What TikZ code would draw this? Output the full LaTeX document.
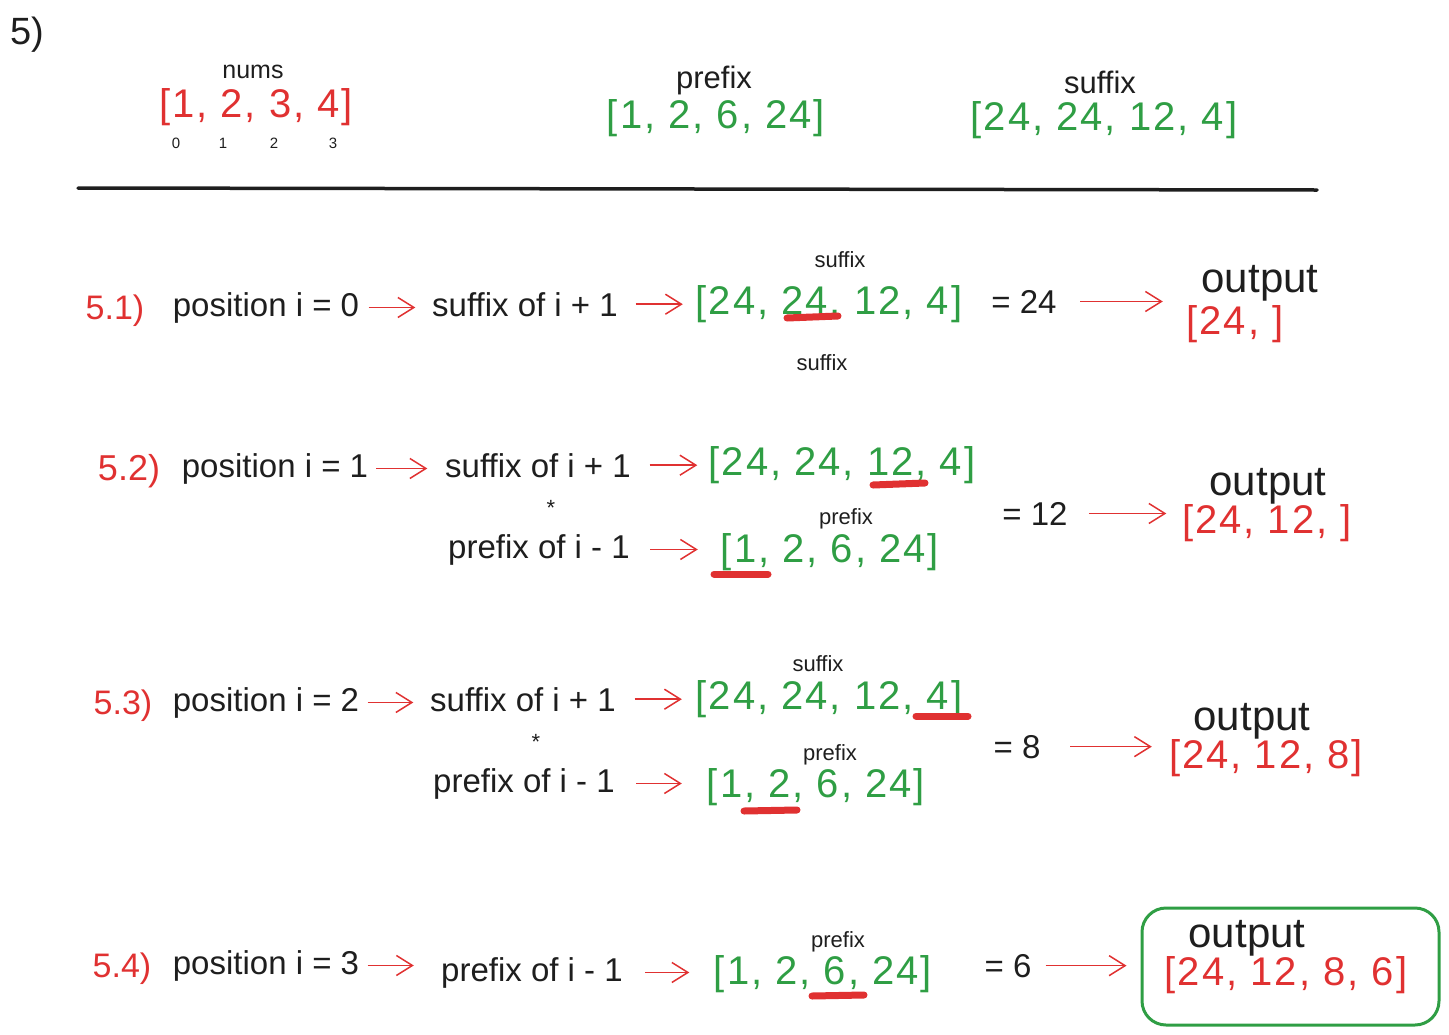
\documentclass[tikz,border=0pt]{standalone}
\usepackage{fontspec}
\setmainfont{Liberation Sans}
\newfontfamily\arrfont{Liberation Sans}[LetterSpace=5]
\usetikzlibrary{arrows.meta,calc}
\definecolor{exred}{HTML}{E03131}
\definecolor{exgreen}{HTML}{2F9E44}
\definecolor{exblack}{HTML}{1E1E1E}
\tikzset{
  txt/.style={inner sep=0pt, anchor=base, text=exblack, font=\fontsize{33}{40}\selectfont},
  hd/.style={txt, text=exred, font=\fontsize{34}{40}\selectfont},
  arrg/.style={txt, text=exgreen, font=\fontsize{40}{48}\arrfont},
  arrr/.style={txt, text=exred, font=\fontsize{40}{48}\arrfont},
  small/.style={txt, font=\fontsize{22}{26}\selectfont},
  outl/.style={txt, font=\fontsize{42}{48}\selectfont},
  idx/.style={txt, font=\fontsize{15}{18}\selectfont},
  conn/.style={draw=exred, line width=1.5pt, -{Straight Barb[length=16pt,width=20pt,line width=1.5pt]}},
  uline/.style={draw=exred, line width=7pt, line cap=round},
}
\begin{document}
\begin{tikzpicture}[x=1pt,y=-1pt]
\useasboundingbox (0,0) rectangle (1449,1034);

% header
\node[txt, font=\fontsize{38}{44}\selectfont] (t5) at (27,44) {5)};
\node[txt, font=\fontsize{25}{30}\selectfont] (numsl) at (253,78) {nums};
\node[arrr] (nums) at (256,117) {[1, 2, 3, 4]};
\node[idx] (i0) at (176,148) {0};
\node[idx] (i1) at (223,148) {1};
\node[idx] (i2) at (274,148) {2};
\node[idx] (i3) at (333,148) {3};
\node[txt, font=\fontsize{31}{36}\selectfont] (prefl) at (714,88) {prefix};
\node[arrg] (pref) at (716,128) {[1, 2, 6, 24]};
\node[txt, font=\fontsize{31}{36}\selectfont] (sufl) at (1100,93) {suffix};
\node[arrg] (suf) at (1104,130) {[24, 24, 12, 4]};
\draw[exblack, line width=3.5pt, line cap=round] (78,188) -- (1317,190);

% 5.1
\node[hd] (h1) at (115,319) {5.1)};
\node[txt, minimum width=187pt] (p1) at (266,316) {position i = 0};
\node[txt, minimum width=197pt] (s1) at (525,316) {suffix of i + 1};
\node[arrg, minimum width=274pt] (a1) at (829,314) {[24, 24, 12, 4]};
\node[small] (a1l) at (840,267) {suffix};
\draw[uline] (787,318) -- (838,316);
\node[txt, minimum width=68pt] (e1) at (1024,313) {= 24};
\node[outl] (o1l) at (1260,292) {output};
\node[arrr, minimum width=110pt] (o1) at (1235,334) {[24, ]};
\node[small] (x1) at (822,370) {suffix};
\draw[conn, shorten <=9pt, shorten >=11pt] (p1.east) -- (p1.east -| s1.west);
\draw[conn, shorten <=12pt, shorten >=9pt] (s1.east) -- (s1.east -| a1.west);
\draw[conn, shorten <=22pt, shorten >=17pt] (e1.east) -- (e1.east -| o1.west);

% 5.2
\node[hd, font=\fontsize{36}{42}\selectfont] (h2) at (129,480) {5.2)};
\node[txt, minimum width=174pt] (p2) at (275,477) {position i = 1};
\node[txt, minimum width=197pt] (s2) at (538,477) {suffix of i + 1};
\node[arrg, minimum width=271pt] (a2) at (842,475) {[24, 24, 12, 4]};
\draw[uline] (873,485) -- (925,483);
\node[small] (m2) at (551,515) {*};
\node[txt, minimum width=188pt] (q2) at (539,558) {prefix of i - 1};
\node[arrg, minimum width=226pt] (b2) at (830,562) {[1, 2, 6, 24]};
\draw[uline] (714,574) -- (768,574);
\node[small] (b2l) at (846,524) {prefix};
\node[txt, minimum width=58pt] (e2) at (1035,525) {= 12};
\node[outl] (o2l) at (1268,495) {output};
\node[arrr, minimum width=175pt] (o2) at (1267,533) {[24, 12, ]};
\draw[conn, shorten <=8pt, shorten >=12pt] (p2.east) -- (p2.east -| s2.west);
\draw[conn, shorten <=13pt, shorten >=9pt] (s2.east) -- (s2.east -| a2.west);
\draw[conn, shorten <=17pt, shorten >=19pt] (q2.east) -- (q2.east -| b2.west);
\draw[conn, shorten <=21pt, shorten >=13pt] (e2.east) -- (e2.east -| o2.west);

% 5.3
\node[hd] (h3) at (123,714) {5.3)};
\node[txt, minimum width=187pt] (p3) at (266,711) {position i = 2};
\node[txt, minimum width=197pt] (s3) at (523,711) {suffix of i + 1};
\node[arrg, minimum width=278pt] (a3) at (829,709) {[24, 24, 12, 4]};
\draw[uline] (916,716) -- (968,716);
\node[small] (a3l) at (818,671) {suffix};
\node[small] (m3) at (536,749) {*};
\node[txt, minimum width=188pt] (q3) at (524,792) {prefix of i - 1};
\node[arrg, minimum width=224pt] (b3) at (816,797) {[1, 2, 6, 24]};
\draw[uline] (744,811) -- (797,810);
\node[small] (b3l) at (830,760) {prefix};
\node[txt, minimum width=50pt] (e3) at (1017,758) {= 8};
\node[outl] (o3l) at (1252,730) {output};
\node[arrr, minimum width=200pt] (o3) at (1266,768) {[24, 12, 8]};
\draw[conn, shorten <=8pt, shorten >=11pt] (p3.east) -- (p3.east -| s3.west);
\draw[conn, shorten <=13pt, shorten >=8pt] (s3.east) -- (s3.east -| a3.west);
\draw[conn, shorten <=18pt, shorten >=22pt] (q3.east) -- (q3.east -| b3.west);
\draw[conn, shorten <=28pt, shorten >=14pt] (e3.east) -- (e3.east -| o3.west);

% 5.4
\node[hd] (h4) at (122,977) {5.4)};
\node[txt, minimum width=187pt] (p4) at (266,974) {position i = 3};
\node[txt, minimum width=188pt] (q4) at (532,981) {prefix of i - 1};
\node[arrg, minimum width=223pt] (b4) at (823,984) {[1, 2, 6, 24]};
\draw[uline] (812,996) -- (864,995);
\node[small] (b4l) at (838,947) {prefix};
\node[txt, minimum width=47pt] (e4) at (1008,977) {= 6};
\node[draw=exgreen, line width=3pt, rounded corners=24pt, minimum width=297pt, minimum height=117pt, inner sep=0pt] (box) at (1290.5,966.5) {};
\node[outl] (o4l) at (1247,947) {output};
\node[arrr] (o4) at (1286,985) {[24, 12, 8, 6]};
\draw[conn, shorten <=8pt, shorten >=24pt] (p4.east) -- (p4.east -| q4.west);
\draw[conn, shorten <=19pt, shorten >=22pt] (q4.east) -- (q4.east -| b4.west);
\draw[conn, shorten <=14pt, shorten >=14pt] (e4.east) -- (e4.east -| box.west);
\end{tikzpicture}
\end{document}
